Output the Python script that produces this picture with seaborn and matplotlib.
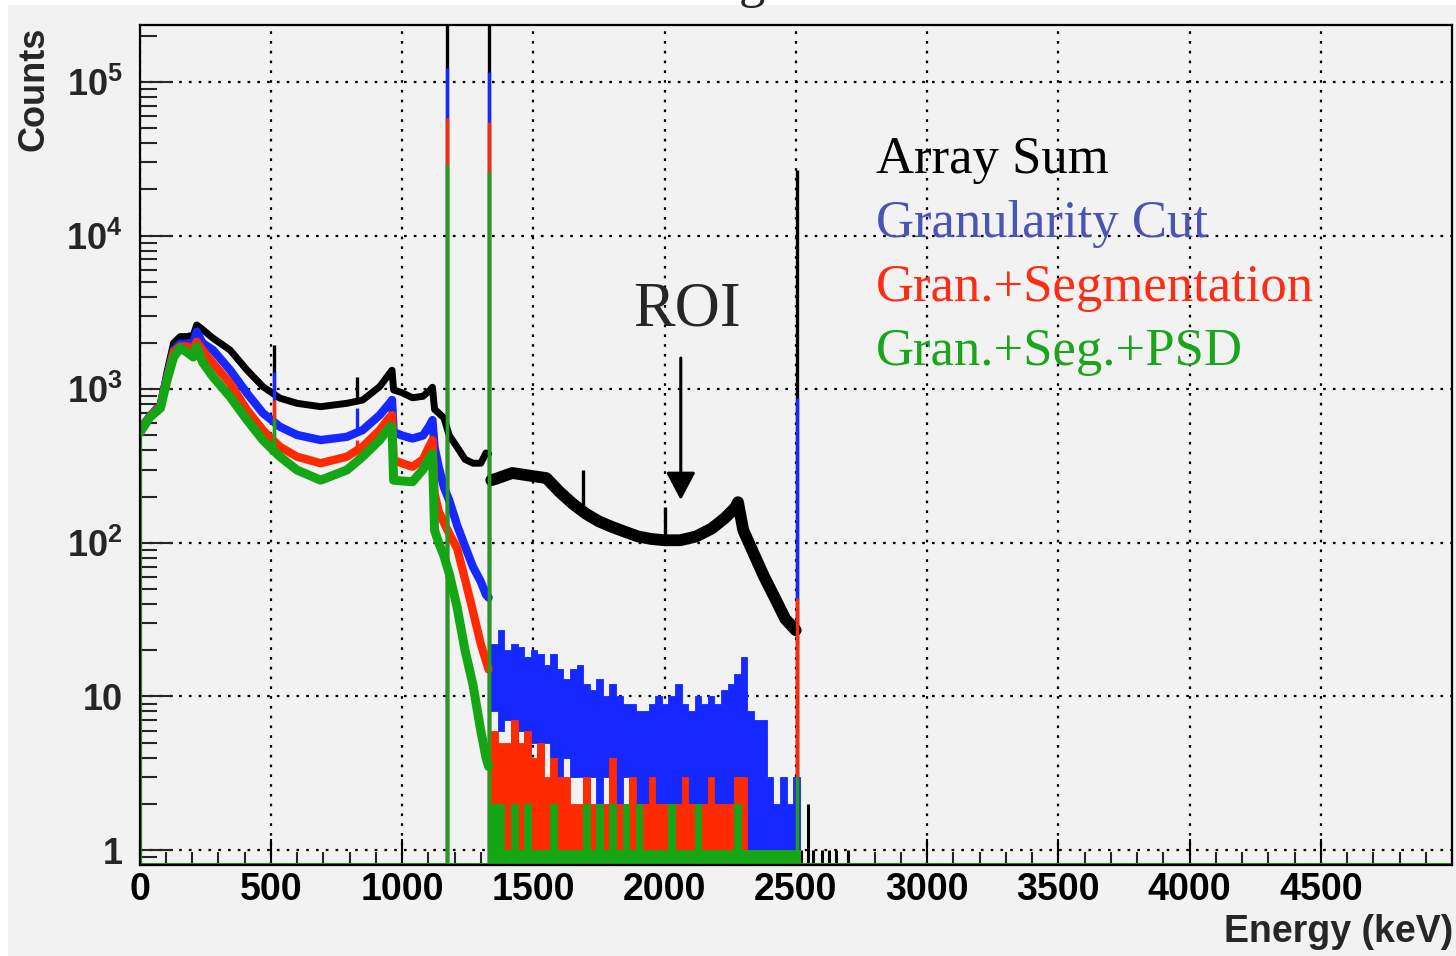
import numpy as np
import matplotlib
matplotlib.use("Agg")
import matplotlib.pyplot as plt
import seaborn as sns
from matplotlib.ticker import FixedLocator, MultipleLocator, LogLocator, NullFormatter
from matplotlib.patches import Rectangle

# ---------------- spectrum data (counts per bin) ----------------
# continuum up to the 1332 keV line
energy_cont = [0, 40, 80, 105, 130, 155, 180, 205, 218, 240, 280, 345, 410, 470, 535,
               600, 690, 790, 850, 915, 950, 962, 968, 1000, 1040, 1080, 1105, 1116,
               1124, 1140, 1160, 1180, 1210, 1240, 1270, 1300, 1320, 1330]
array_sum = [540, 670, 800, 1300, 2000, 2200, 2200, 2250, 2620, 2450, 2150, 1800, 1330,
             1040, 875, 810, 770, 810, 850, 1040, 1250, 1330, 990, 950, 880, 900, 980,
             1030, 740, 700, 650, 500, 420, 350, 330, 330, 385, 380]
gran_cut = [540, 670, 790, 1200, 1800, 1980, 1980, 2000, 2370, 2000, 1800, 1334, 940,
            700, 570, 504, 467, 490, 542, 679, 800, 851, 527, 500, 478, 500, 580, 630,
            420, 311, 230, 189, 130, 95, 70, 56, 46, 44]
gran_seg = [540, 665, 780, 1180, 1750, 1900, 1900, 1850, 2040, 1800, 1475, 1093, 732,
            542, 422, 364, 330, 364, 422, 542, 650, 679, 346, 330, 313, 350, 430, 467,
            210, 160, 135, 115, 92, 58, 36, 22, 17, 15]
gran_seg_psd = [518, 659, 755, 1148, 1622, 1854, 1746, 1622, 1890, 1500, 1205, 894, 630,
                467, 364, 298, 256, 298, 364, 467, 560, 570, 256, 253, 250, 300, 360,
                381, 121, 100, 82, 63, 38, 20, 12, 6, 4, 3.5]

# array sum above 1332 keV (ROI region)
energy_tail = [1340, 1360, 1420, 1480, 1550, 1600, 1650, 1700, 1750, 1800, 1850, 1900,
               1950, 2000, 2060, 2120, 2180, 2230, 2270, 2280, 2300, 2340, 2380, 2420,
               2460, 2500]
array_sum_tail = [256, 262, 285, 275, 264, 215, 180, 155, 138, 127, 118, 110, 106, 104,
                  104, 110, 124, 145, 170, 184, 121, 85, 60, 44, 32, 27]

# low-statistics region after cuts: per 25 keV bin, min / max content
sparse_start = 1340
sparse_width = 25
gran_cut_hi = [22, 27, 20, 22, 21, 18, 20, 19, 16, 19, 15, 13, 15, 16, 12, 11, 13, 10,
               12, 10, 9, 9, 8, 8, 9, 10, 9, 10, 12, 9, 8, 10, 9, 10, 9, 11, 12, 14, 18,
               8, 7, 7, 3, 2, 3, 2, 3]
gran_cut_lo = [8, 6, 7, 5, 6, 4, 5, 4, 5, 4, 3, 4, 3, 3, 2, 3, 2, 3, 2, 2, 3, 2, 2, 2,
               2, 2, 2, 2, 2, 2, 2, 2, 2, 2, 2, 2, 2, 2, 1, 1, 1, 1, 1, 1, 1, 1, 1]
gran_seg_hi = [6, 5, 5, 7, 5, 6, 4, 5, 3, 4, 3, 3, 2, 2, 3, 2, 2, 2, 4, 2, 2, 3, 2, 2,
               3, 2, 2, 2, 2, 3, 2, 2, 2, 3, 2, 2, 2, 3, 3, 1, 1, 1, 1, 1, 1, 1, 1]
gran_seg_lo = [0, 0, 0, 0, 0, 0, 0, 0, 0, 0, 0, 0, 0, 0, 0, 0, 0, 0, 0, 0, 0, 0, 0, 0,
               0, 0, 0, 0, 0, 0, 0, 0, 0, 0, 0, 0, 0, 0, 0, 0, 0, 0, 0, 0, 0, 0, 0]
gran_seg_psd_hi = [2, 2, 1, 2, 1, 2, 1, 1, 1, 2, 1, 1, 1, 1, 2, 1, 2, 1, 2, 1, 2, 1, 2,
                   1, 1, 1, 1, 2, 1, 1, 1, 2, 1, 1, 1, 1, 1, 2, 1, 1, 1, 1, 1, 1, 1, 1, 1]
gran_seg_psd_lo = [0, 0, 0, 0, 0, 0, 0, 0, 0, 0, 0, 0, 0, 0, 0, 0, 0, 0, 0, 0, 0, 0, 0,
                   0, 0, 0, 0, 0, 0, 0, 0, 0, 0, 0, 0, 0, 0, 0, 0, 0, 0, 0, 0, 0, 0, 0, 0]

# single counts above the 2505 keV sum peak (array sum)
energy_high = [2520, 2545, 2565, 2600, 2625, 2655, 2700]
array_sum_high = [1, 2, 1, 1, 1, 1, 1]

# gamma lines: peak heights per spectrum (0 = not visible)
peak_energy = [511, 827, 1173, 1332, 1690, 2000, 2505]
peak_full_height = [False, False, True, True, False, False, True]
array_sum_peaks = [1940, 1200, 3.0e5, 3.0e5, 300, 171, 26700]
gran_cut_peaks = [1290, 755, 1.23e5, 1.16e5, 0, 0, 877]
gran_seg_peaks = [850, 467, 5.8e4, 5.5e4, 0, 0, 44]
gran_seg_psd_peaks = [640, 360, 2.9e4, 2.6e4, 0, 0, 3]

labels = ["Array Sum", "Granularity Cut", "Gran.+Segmentation", "Gran.+Seg.+PSD"]
line_colors = ["#000000", "#1428ff", "#ff2a00", "#14a614"]
label_colors = ["#000000", "#4b53b5", "#ff2b12", "#1aa51a"]

x_ticks = [0, 500, 1000, 1500, 2000, 2500, 3000, 3500, 4000, 4500]
y_ticks = [1, 10, 100, 1000, 10000, 100000]
y_ticklabels = ["1", "10", r"$\mathbf{10^{2}}$", r"$\mathbf{10^{3}}$",
                r"$\mathbf{10^{4}}$", r"$\mathbf{10^{5}}$"]

# ---------------- style ----------------
sns.set_style("ticks")
plt.rcParams["font.family"] = ["Liberation Sans", "DejaVu Sans"]
plt.rcParams["mathtext.fontset"] = "custom"
plt.rcParams["mathtext.rm"] = "Liberation Sans"
plt.rcParams["mathtext.bf"] = "Liberation Sans:bold"

W, H = 1456, 956
BG = "#f2f2f2"
Y_MIN, Y_MAX = 0.80, 2.35e5
FLOOR = 0.5

fig = plt.figure(figsize=(W / 100, H / 100), dpi=100)
fig.patch.set_facecolor("white")
fig.patches.append(Rectangle((8 / W, 0), 1 - 8 / W, 1 - 5 / H, transform=fig.transFigure,
                             facecolor=BG, edgecolor="none", zorder=-10))

ax = fig.add_axes([139.5 / W, 1 - 865 / H, (1452 - 139.5) / W, (865 - 25) / H])
ax.set_facecolor(BG)
ax.set_yscale("log")
ax.set_xlim(0, 5000)
ax.set_ylim(Y_MIN, Y_MAX)


def draw_spectrum(cont, hi, lo, peaks, color, z, width, tail=None):
    e_all = list(energy_cont)
    c_all = list(cont)
    # left edge of the histogram
    ax.vlines(energy_cont[0], FLOOR, cont[0], color=color, lw=2.2, zorder=z)
    sns.lineplot(x=energy_cont, y=cont, ax=ax, color=color, linewidth=width,
                 estimator=None, sort=False, legend=False, zorder=z)
    if tail is not None:
        te, tc = tail
        sns.lineplot(x=te, y=tc, ax=ax, color=color, linewidth=8.5,
                     estimator=None, sort=False, legend=False, zorder=z)
        e_all += list(te)
        c_all += list(tc)
    if hi is not None:
        n = len(hi)
        edges = sparse_start + sparse_width * np.arange(n + 1)
        hi_a = np.append(hi, hi[-1]).astype(float)
        lo_a = np.append(lo, lo[-1]).astype(float)
        lo_a = np.where(lo_a > 0, lo_a, FLOOR)
        ax.fill_between(edges, lo_a, hi_a, step="post", color=color, lw=0.6,
                        edgecolor=color, zorder=z)
    for e, h, full in zip(peak_energy, peaks, peak_full_height):
        if h <= 0:
            continue
        base = FLOOR if full else np.interp(e, e_all, c_all)
        ax.vlines(e, base, h, color=color, lw=2.4, zorder=z + 0.1)


draw_spectrum(array_sum, None, None, array_sum_peaks, line_colors[0], 3, 5.0,
              tail=(energy_tail, array_sum_tail))
ax.vlines(energy_high, FLOOR, array_sum_high, color=line_colors[0], lw=2.2, zorder=3)
draw_spectrum(gran_cut, gran_cut_hi, gran_cut_lo, gran_cut_peaks, line_colors[1], 4, 6.0)
draw_spectrum(gran_seg, gran_seg_hi, gran_seg_lo, gran_seg_peaks, line_colors[2], 5, 6.0)
draw_spectrum(gran_seg_psd, gran_seg_psd_hi, gran_seg_psd_lo, gran_seg_psd_peaks,
              line_colors[3], 6, 6.5)
# empty bins of the last spectrum sit on the lower frame
ax.axhline(Y_MIN * 1.01, color=line_colors[3], lw=2.2, zorder=6.5)

# ---------------- axes ----------------
ax.xaxis.set_major_locator(FixedLocator(x_ticks))
ax.xaxis.set_minor_locator(MultipleLocator(100))
ax.set_xticklabels([str(t) for t in x_ticks])
ax.yaxis.set_major_locator(FixedLocator(y_ticks))
ax.set_yticklabels(y_ticklabels)
ax.yaxis.set_minor_locator(LogLocator(base=10, subs=np.arange(2, 10)))
ax.yaxis.set_minor_formatter(NullFormatter())

ax.tick_params(axis="x", which="major", direction="in", length=19, width=1.5,
               labelsize=27, pad=5, colors="black", top=False)
ax.tick_params(axis="x", which="minor", direction="in", length=9.5, width=1.5,
               top=False)
ax.tick_params(axis="y", which="major", direction="in", length=24, width=1.5,
               labelsize=26, pad=12, right=False)
ax.tick_params(axis="y", which="minor", direction="in", length=12, width=1.5,
               right=False)
for lab in ax.get_xticklabels() + ax.get_yticklabels():
    lab.set_fontweight("bold")

ax.grid(True, which="major", color="black", linestyle=(0, (1.2, 3.2)), linewidth=1.6)
ax.set_axisbelow(True)
for s in ax.spines.values():
    s.set_linewidth(1.6)
    s.set_color("black")
    s.set_zorder(7)

fig.text(34 / W, 1 - 27 / H, "Counts", rotation=90, ha="center", va="top",
         fontsize=26, fontweight="bold")
fig.text(1453 / W, 1 - 932 / H, "Energy (keV)", ha="right", va="center",
         fontsize=27, fontweight="bold")

# title line, mostly above the canvas
fig.text(752 / W, 1 + 3 / H, "g", ha="center", va="baseline", fontsize=38,
         family=["Liberation Serif", "DejaVu Serif"])

# legend written as coloured labels
for i, (lab, col) in enumerate(zip(labels, label_colors)):
    fig.text(876 / W, 1 - (173 + 64 * i) / H, lab, ha="left", va="baseline",
             fontsize=38, color=col, family=["Liberation Serif", "DejaVu Serif"])

# region of interest marker
fig.text(687 / W, 1 - 326 / H, "ROI", ha="center", va="baseline", fontsize=45,
         family=["Liberation Serif", "DejaVu Serif"])
ax.annotate("", xy=(2062, 190), xytext=(2062, 1596),
            arrowprops=dict(arrowstyle="-|>,head_length=0.85,head_width=0.45",
                            color="black", lw=2.2, shrinkA=0, shrinkB=0,
                            mutation_scale=20), zorder=8)

fig.savefig("out.png", dpi=100, facecolor=fig.get_facecolor())
